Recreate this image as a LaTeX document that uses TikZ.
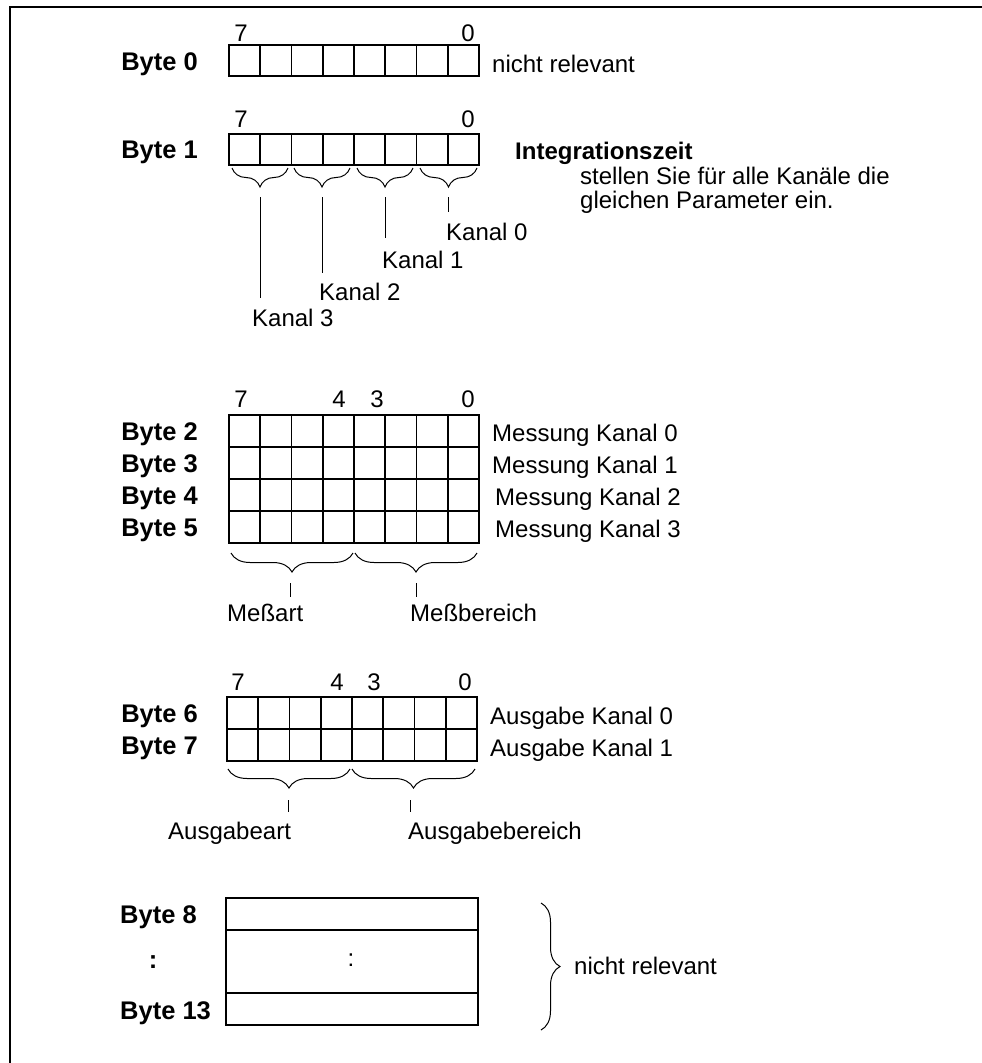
\documentclass[tikz,border=0pt]{standalone}
\usepackage{fontspec}
\setmainfont{Liberation Sans}
\usetikzlibrary{decorations.pathreplacing}
\newcommand{\fs}{\fontsize{24}{28}\selectfont}
\newcommand{\fb}{\fontsize{25.5}{30}\selectfont\bfseries}
\tikzset{
  frameline/.style={line width=1.3pt},
  cellline/.style={line width=1.8pt},
  lead/.style={line width=1pt},
  brc/.style={decorate, decoration={brace, mirror, amplitude=19pt}, line width=1pt},
  rbrc/.style={decorate, decoration={brace, amplitude=19pt}, line width=1pt},
  lbl/.style={anchor=base west, inner sep=0pt, font=\fs},
  bytelbl/.style={anchor=base east, inner sep=0pt, font=\fb},
  bytelblw/.style={anchor=base west, inner sep=0pt, font=\fb},
  bit/.style={anchor=base, inner sep=0pt, font=\fs},
}
\begin{document}
\begin{tikzpicture}[x=1pt,y=-1pt]
\useasboundingbox (0,0) rectangle (982,1063);
% frame
\draw[frameline] (982,7) -- (10,7) -- (10,1063);

% ---------- Byte 0 ----------
\draw[cellline] (229,45) rectangle (479,76);
\foreach \i in {1,...,7} \draw[cellline] ({229+\i*31.25},45) -- ({229+\i*31.25},76);
\node[bit] (b0h7) at (241,41) {7};
\node[bit] (b0h0) at (468,41) {0};
\node[bytelbl] (by0) at (198,70) {Byte 0};
\node[lbl] (nr0) at (492,72) {nicht relevant};

% ---------- Byte 1 ----------
\draw[cellline] (229,134) rectangle (479,165);
\foreach \i in {1,...,7} \draw[cellline] ({229+\i*31.25},134) -- ({229+\i*31.25},165);
\node[bit] (b1h7) at (241,127) {7};
\node[bit] (b1h0) at (468,127) {0};
\node[bytelbl] (by1) at (198,158) {Byte 1};
\node[anchor=base west, inner sep=0pt, font=\fs\bfseries] (integ) at (515,159) {Integrationszeit};
\node[lbl] (intega) at (580,184) {stellen Sie für alle Kanäle die};
\node[lbl] (integb) at (580,208) {gleichen Parameter ein.};

\draw[brc] (232,168) -- (288,168);
\draw[brc] (294,168) -- (350,168);
\draw[brc] (357,168) -- (413,168);
\draw[brc] (420,168) -- (477,168);

\coordinate (t3) at (260,197); \coordinate (e3) at (260,298);
\coordinate (t2) at (322,197); \coordinate (e2) at (322,273);
\coordinate (t1) at (385,197); \coordinate (e1) at (385,238);
\coordinate (t0) at (448,197); \coordinate (e0) at (448,212);
\draw[lead] (t3) -- (e3);
\draw[lead] (t2) -- (e2);
\draw[lead] (t1) -- (e1);
\draw[lead] (t0) -- (e0);
\node[lbl] (k3) at (252,326) {Kanal 3};
\node[lbl] (k2) at (319,300) {Kanal 2};
\node[lbl] (k1) at (382,268) {Kanal 1};
\node[lbl] (k0) at (446,240) {Kanal 0};

% ---------- Byte 2-5 ----------
\draw[cellline] (229,415) rectangle (479,543);
\foreach \i in {1,...,7} \draw[cellline] ({229+\i*31.25},415) -- ({229+\i*31.25},543);
\foreach \j in {1,2,3} \draw[cellline] (229,{415+\j*32}) -- (479,{415+\j*32});
\node[bit] (g2h7) at (241,407) {7};
\node[bit] (g2h4) at (339,407) {4};
\node[bit] (g2h3) at (377,407) {3};
\node[bit] (g2h0) at (468,407) {0};
\node[bytelbl] (by2) at (198,440) {Byte 2};
\node[bytelbl] (by3) at (198,472) {Byte 3};
\node[bytelbl] (by4) at (198,504) {Byte 4};
\node[bytelbl] (by5) at (198,536) {Byte 5};
\node[lbl] (ms0) at (492,441) {Messung Kanal 0};
\node[lbl] (ms1) at (492,473) {Messung Kanal 1};
\node[lbl] (ms2) at (495,505) {Messung Kanal 2};
\node[lbl] (ms3) at (495,537) {Messung Kanal 3};

\draw[brc] (231,553) -- (353,553);
\draw[brc] (355,553) -- (477,553);
\coordinate (ma1) at (290,583); \coordinate (ma2) at (290,597);
\coordinate (mb1) at (416,583); \coordinate (mb2) at (416,597);
\draw[lead] (ma1) -- (ma2);
\draw[lead] (mb1) -- (mb2);
\node[lbl] (meart) at (227,621) {Meßart};
\node[lbl] (mebe) at (410,621) {Meßbereich};

% ---------- Byte 6-7 ----------
\draw[cellline] (227,697) rectangle (477,761);
\foreach \i in {1,...,7} \draw[cellline] ({227+\i*31.25},697) -- ({227+\i*31.25},761);
\draw[cellline] (227,729) -- (477,729);
\node[bit] (g6h7) at (238,690) {7};
\node[bit] (g6h4) at (337,690) {4};
\node[bit] (g6h3) at (374,690) {3};
\node[bit] (g6h0) at (465,690) {0};
\node[bytelbl] (by6) at (198,722) {Byte 6};
\node[bytelbl] (by7) at (198,754) {Byte 7};
\node[lbl] (au0) at (490,724) {Ausgabe Kanal 0};
\node[lbl] (au1) at (490,756) {Ausgabe Kanal 1};

\draw[brc] (228,769) -- (350,769);
\draw[brc] (352,769) -- (475,769);
\coordinate (aa1) at (288,800); \coordinate (aa2) at (288,812);
\coordinate (ab1) at (410,800); \coordinate (ab2) at (410,812);
\draw[lead] (aa1) -- (aa2);
\draw[lead] (ab1) -- (ab2);
\node[lbl] (auart) at (168,839) {Ausgabeart};
\node[lbl] (aube) at (408,839) {Ausgabebereich};

% ---------- Byte 8-13 ----------
\draw[cellline] (226,898) rectangle (478,1025);
\draw[cellline] (226,930) -- (478,930);
\draw[cellline] (226,993) -- (478,993);
\node[bytelblw] (by8) at (120,923) {Byte 8};
\node[anchor=base, inner sep=0pt, font=\fb] (dotl) at (153,968) {:};
\node[bytelblw] (by13) at (120,1019) {Byte 13};
\node[bit] (dotm) at (351,966) {:};
\draw[rbrc] (541,903) -- (541,1030);
\node[lbl] (nr8) at (574,974) {nicht relevant};
\end{tikzpicture}
\end{document}
